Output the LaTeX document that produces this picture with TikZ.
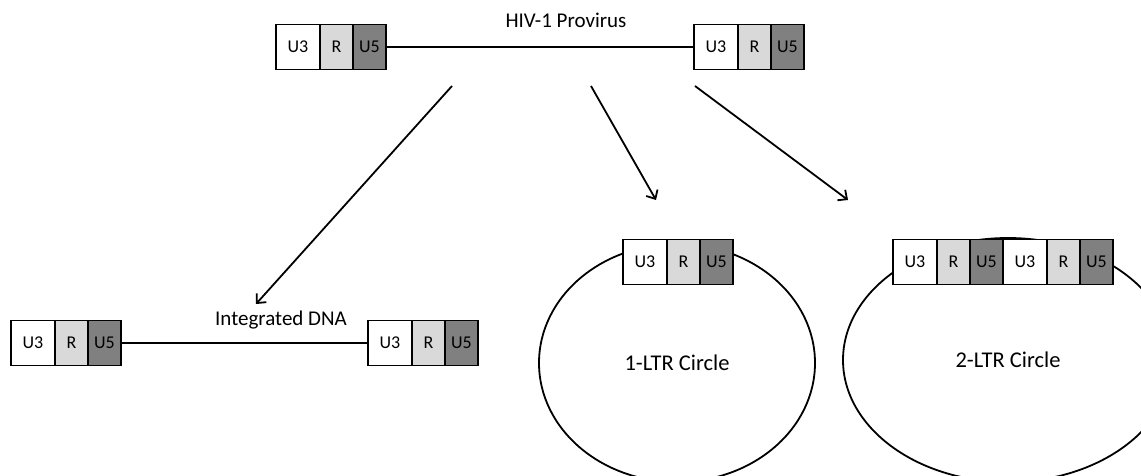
\documentclass[tikz,border=0pt]{standalone}
\usepackage{fontspec}
\setmainfont{Carlito}
\usetikzlibrary{arrows.meta,positioning,shapes.geometric}

\begin{document}
\begin{tikzpicture}[x=1pt,y=-1pt,>={Straight Barb[length=7pt,width=13pt]},line width=1.8pt]
  \tikzstyle{every node}=[font=\fontsize{18}{20}\selectfont]
  \tikzstyle{cell}=[draw=black,line width=1.8pt,minimum height=45pt,inner sep=0pt,outer sep=0pt]
  \tikzstyle{uthree}=[cell,fill=white,minimum width=44pt]
  \tikzstyle{rcell}=[cell,fill=black!15,minimum width=33pt]
  \tikzstyle{ufive}=[cell,fill=black!50,minimum width=33pt]
  \tikzstyle{bigtext}=[font=\fontsize{21}{24}\selectfont]
  \tikzstyle{ring}=[ellipse,draw=black,line width=1.8pt,font=\fontsize{22.5}{26}\selectfont]

  \clip (0,0) rectangle (1141,476);

  % circles first, the LTRs sit on top
  \node[ring,minimum width=276pt,minimum height=238pt] (C1) at (677,363) {1-LTR Circle};
  \node[ring,minimum width=330pt,minimum height=244pt] (C2) at (1008,360) {2-LTR Circle};

  % provirus
  \node[uthree,anchor=west] (A1) at (276,47) {U3};
  \node[rcell]  (A2) [right=0pt of A1] {R};
  \node[ufive]  (A3) [right=0pt of A2] {U5};
  \node[uthree,anchor=west] (B1) at (694,47) {U3};
  \node[rcell]  (B2) [right=0pt of B1] {R};
  \node[ufive]  (B3) [right=0pt of B2] {U5};
  \draw (A3.east) -- (B1.west);
  \node[bigtext] (prov) at (566,20) {HIV-1 Provirus};

  % integrated
  \node[uthree,anchor=west] (D1) at (11,343) {U3};
  \node[rcell]  (D2) [right=0pt of D1] {R};
  \node[ufive]  (D3) [right=0pt of D2] {U5};
  \node[uthree,anchor=west] (E1) at (368,343) {U3};
  \node[rcell]  (E2) [right=0pt of E1] {R};
  \node[ufive]  (E3) [right=0pt of E2] {U5};
  \draw (D3.east) -- (E1.west);
  \node[bigtext] (integ) at (281,320) {Integrated DNA};

  % 1-LTR
  \node[uthree,anchor=west] (F1) at (623,262) {U3};
  \node[rcell]  (F2) [right=0pt of F1] {R};
  \node[ufive]  (F3) [right=0pt of F2] {U5};

  % 2-LTR
  \node[uthree,anchor=west] (G1) at (893,262) {U3};
  \node[rcell]  (G2) [right=0pt of G1] {R};
  \node[ufive]  (G3) [right=0pt of G2] {U5};
  \node[uthree] (G4) [right=0pt of G3] {U3};
  \node[rcell]  (G5) [right=0pt of G4] {R};
  \node[ufive]  (G6) [right=0pt of G5] {U5};

  \coordinate (s1) at (452,86);  \coordinate (t1) at (256,304);
  \coordinate (s2) at (591,86);  \coordinate (t2) at (656,200);
  \coordinate (s3) at (695,86);  \coordinate (t3) at (848,200);
  \draw[->] (s1) -- (t1);
  \draw[->] (s2) -- (t2);
  \draw[->] (s3) -- (t3);
\end{tikzpicture}
\end{document}
